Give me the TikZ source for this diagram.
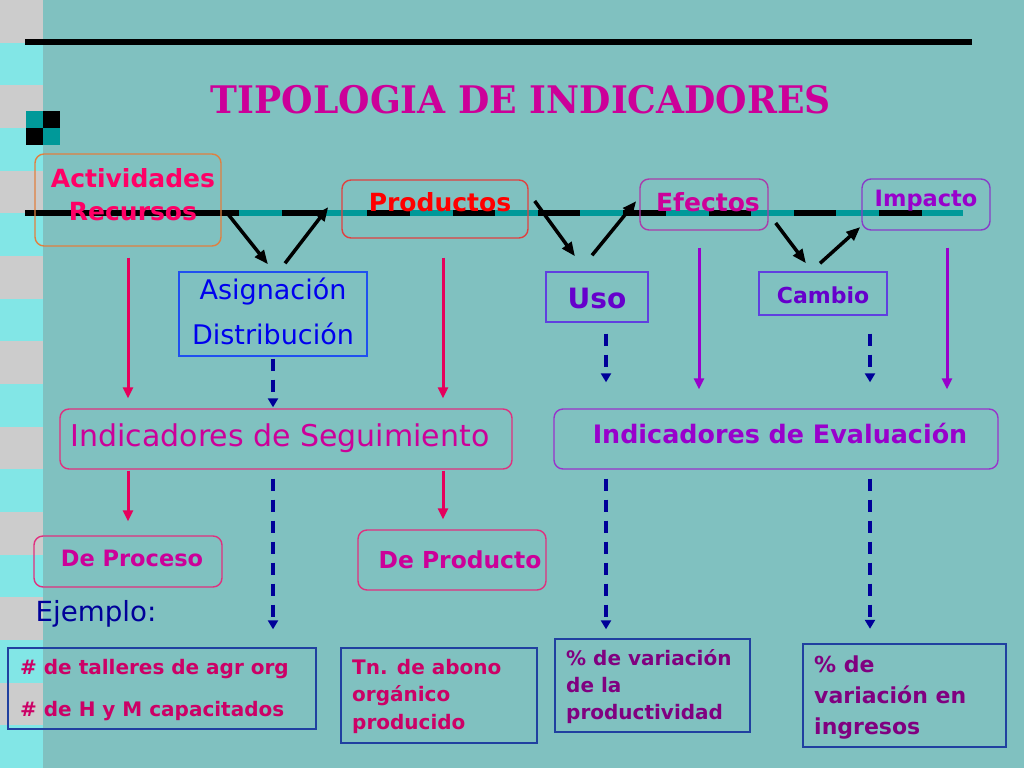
\documentclass[tikz,border=0pt]{standalone}
\usepackage{fontspec}
\setmainfont{DejaVu Sans}
\newfontfamily\titlefont{DejaVu Serif}
\usetikzlibrary{arrows.meta,calc}
\definecolor{bgc}{RGB}{128,193,192}
\definecolor{stripeg}{RGB}{204,204,204}
\definecolor{stripec}{RGB}{130,230,230}
\definecolor{tealc}{RGB}{0,153,153}
\definecolor{magc}{RGB}{204,0,153}
\definecolor{rosec}{RGB}{255,0,102}
\definecolor{orangec}{RGB}{224,128,64}
\definecolor{redc}{RGB}{255,0,0}
\definecolor{redbox}{RGB}{224,64,64}
\definecolor{efebord}{RGB}{170,60,170}
\definecolor{purc}{RGB}{153,0,204}
\definecolor{impbord}{RGB}{136,60,200}
\definecolor{bluec}{RGB}{0,0,238}
\definecolor{bluebord}{RGB}{32,80,240}
\definecolor{violc}{RGB}{102,0,204}
\definecolor{violbord}{RGB}{96,64,224}
\definecolor{segbord}{RGB}{224,48,127}
\definecolor{evalbord}{RGB}{153,51,204}
\definecolor{pinkarrc}{RGB}{230,0,92}
\definecolor{navyc}{RGB}{0,0,153}
\definecolor{exbord}{RGB}{32,64,160}
\definecolor{crimc}{RGB}{204,0,102}
\definecolor{plumc}{RGB}{128,0,128}
\begin{document}
\begin{tikzpicture}[x=1pt,y=-1pt,
  boxs/.style={draw,line width=1.4pt,inner sep=0pt},
  boxr/.style={boxs,rounded corners=9pt},
  lbl/.style={inner sep=0pt,align=center},
  lbll/.style={inner sep=0pt,align=left,anchor=west},
  blackarr/.style={line width=3.5pt,-{Triangle[length=14pt,width=11pt]}},
  pinkarr/.style={pinkarrc,line width=3pt,-{Triangle[length=11pt,width=10pt]}},
  purparr/.style={purc,line width=3pt,-{Triangle[length=11pt,width=10pt]}},
  navydash/.style={navyc,line width=3.5pt,dash pattern=on 12pt off 9pt,-{Triangle[length=9pt,width=10pt]}}
]
\useasboundingbox (0,0) rectangle (1024,768);
\fill[bgc] (0,0) rectangle (1024,768);
% left strip
\foreach \i in {0,2,...,16} {
  \fill[stripeg] (0,{\i*42.667}) rectangle (43,{(\i+1)*42.667});
  \fill[stripec] (0,{(\i+1)*42.667}) rectangle (43,{(\i+2)*42.667});
}
% top rule
\draw[line width=6pt] (25,42) -- (972,42);
% checker
\fill[tealc] (26,111) rectangle (43,128);
\fill[black] (43,111) rectangle (60,128);
\fill[black] (26,128) rectangle (43,145);
\fill[tealc] (43,128) rectangle (60,145);
% dashed band
\draw[line width=6pt] (25,213) -- (239,213);
\draw[tealc,line width=6pt] (239,213) -- (963,213);
\foreach \k in {0,...,7} \draw[line width=6pt] ({282+85.3*\k},213) -- ({324.5+85.3*\k},213);
% title
\node[lbl,text=magc,font=\titlefont\bfseries\fontsize{38}{42}\selectfont] (title) at (521,100) {\scalebox{0.95}[1]{TIPOLOGIA DE INDICADORES}};
% top row
\node[boxr,draw=orangec,minimum width=186pt,minimum height=92pt] (actbox) at (128,200) {};
\node[lbl,text=rosec,font=\fontsize{25}{33}\selectfont\bfseries] (act) at (133,195) {Actividades\\Recursos};
\node[boxr,draw=redbox,minimum width=186pt,minimum height=58pt] (prodbox) at (435,209) {};
\node[lbl,text=redc,font=\fontsize{25}{30}\selectfont\bfseries] (prod) at (440,202) {Productos};
\node[boxr,draw=efebord,minimum width=128pt,minimum height=51pt] (efebox) at (704,204.5) {};
\node[lbl,text=magc,font=\fontsize{25}{30}\selectfont\bfseries] (efe) at (708,202) {Efectos};
\node[boxr,draw=impbord,minimum width=128pt,minimum height=51pt] (impbox) at (926,204.5) {};
\node[lbl,text=purc,font=\fontsize{22.5}{27}\selectfont\bfseries] (imp) at (926,201) {Impacto};
% second row
\node[boxs,draw=bluebord,minimum width=188pt,minimum height=84pt] (asigbox) at (273,314) {};
\node[lbl,text=bluec,font=\fontsize{27}{45}\selectfont] (asig) at (273,311) {Asignación\\Distribución};
\node[boxs,draw=violbord,minimum width=102pt,minimum height=50pt] (usobox) at (597,297) {};
\node[lbl,text=violc,font=\fontsize{28}{32}\selectfont\bfseries] (uso) at (597,298) {Uso};
\node[boxs,draw=violbord,minimum width=128pt,minimum height=43pt] (cambbox) at (823,293.5) {};
\node[lbl,text=violc,font=\fontsize{22}{26}\selectfont\bfseries] (camb) at (823,295) {Cambio};
% indicator row
\node[boxr,draw=segbord,minimum width=452pt,minimum height=60pt] (segbox) at (286,439) {};
\node[lbl,text=magc,font=\fontsize{30}{34}\selectfont] (seg) at (280,438) {Indicadores de Seguimiento};
\node[boxr,draw=evalbord,minimum width=444pt,minimum height=60pt] (evalbox) at (776,439) {};
\node[lbl,text=purc,font=\fontsize{25.4}{30}\selectfont\bfseries] (eval) at (780,434) {Indicadores de Evaluación};
% process row
\node[boxr,draw=segbord,minimum width=188pt,minimum height=51pt] (procbox) at (128,561.5) {};
\node[lbl,text=magc,font=\fontsize{22.5}{27}\selectfont\bfseries] (proc) at (132,558) {De Proceso};
\node[boxr,draw=segbord,minimum width=188pt,minimum height=60pt] (dprodbox) at (452,560) {};
\node[lbl,text=magc,font=\fontsize{23.4}{28}\selectfont\bfseries] (dprod) at (460,560) {De Producto};
\node[lbl,text=navyc,font=\fontsize{27.7}{32}\selectfont] (ej) at (96,614) {Ejemplo:};
% examples
\node[boxs,draw=exbord,minimum width=308pt,minimum height=81pt] (ex1box) at (162,688.5) {};
\node[lbll,text=crimc,font=\fontsize{20}{42}\selectfont\bfseries] (ex1) at (20,690) {\# de talleres de agr org\\\# de H y M capacitados};
\node[boxs,draw=exbord,minimum width=196pt,minimum height=95pt] (ex2box) at (439,695.5) {};
\node[lbll,text=crimc,font=\fontsize{20}{27.5}\selectfont\bfseries] (ex2) at (352,696) {Tn. de abono\\orgánico\\producido};
\node[boxs,draw=exbord,minimum width=195pt,minimum height=93pt] (ex3box) at (652.5,685.5) {};
\node[lbll,text=plumc,font=\fontsize{20}{27}\selectfont\bfseries] (ex3) at (566,687) {\% de variación\\de la\\productividad};
\node[boxs,draw=exbord,minimum width=203pt,minimum height=103pt] (ex4box) at (904.5,695.5) {};
\node[lbll,text=plumc,font=\fontsize{22}{31}\selectfont\bfseries] (ex4) at (814,698) {\% de\\variación en\\ingresos};
% black arrows
\draw[blackarr] ($(actbox.east)+(7,15)$) -- ($(asigbox.north)+(-5,-7)$);
\draw[blackarr] ($(asigbox.north)+(12,-8)$) -- ($(prodbox.west)+(-13,-2)$);
\draw[blackarr] ($(prodbox.east)+(6,-8)$) -- ($(usobox.north)+(-22,-15)$);
\draw[blackarr] ($(usobox.north)+(-5,-16)$) -- ($(efebox.west)+(-3,-3.5)$);
\draw[blackarr] ($(efebox.east)+(7,18.5)$) -- ($(cambbox.north)+(-17,-8)$);
\draw[blackarr] ($(cambbox.north)+(-3,-8)$) -- ($(impbox.west)+(-1,22.5)$);
% pink arrows
\draw[pinkarr] ($(actbox.south)+(0,11)$) -- ($(segbox.north)+(-158,-10)$);
\draw[pinkarr] ($(prodbox.south)+(8,19)$) -- ($(segbox.north)+(157,-10)$);
\draw[pinkarr] ($(segbox.south)+(-158,1)$) -- ($(procbox.north)+(0,-14)$);
\draw[pinkarr] ($(segbox.south)+(157,1)$) -- ($(dprodbox.north)+(-9,-10)$);
% purple arrows
\draw[purparr] ($(efebox.south)+(-5,17)$) -- ($(evalbox.north)+(-77,-19)$);
\draw[purparr] ($(impbox.south)+(21,17)$) -- ($(evalbox.north)+(171,-19)$);
% navy dashed arrows
\draw[navydash] ($(asigbox.south)+(0,2)$) -- ($(segbox.north)+(-13,-1)$);
\draw[navydash] ($(segbox.south)+(-13,9)$) -- ($(ex1box.north)+(111,-18)$);
\draw[navydash] ($(usobox.south)+(9,11)$) -- ($(evalbox.north)+(-170,-26)$);
\draw[navydash] ($(cambbox.south)+(47,18)$) -- ($(evalbox.north)+(94,-26)$);
\draw[navydash] ($(evalbox.south)+(-170,9)$) -- ($(ex3box.north)+(-46.5,-9)$);
\draw[navydash] ($(evalbox.south)+(94,9)$) -- ($(ex4box.north)+(-34.5,-14.5)$);
\end{tikzpicture}
\end{document}
